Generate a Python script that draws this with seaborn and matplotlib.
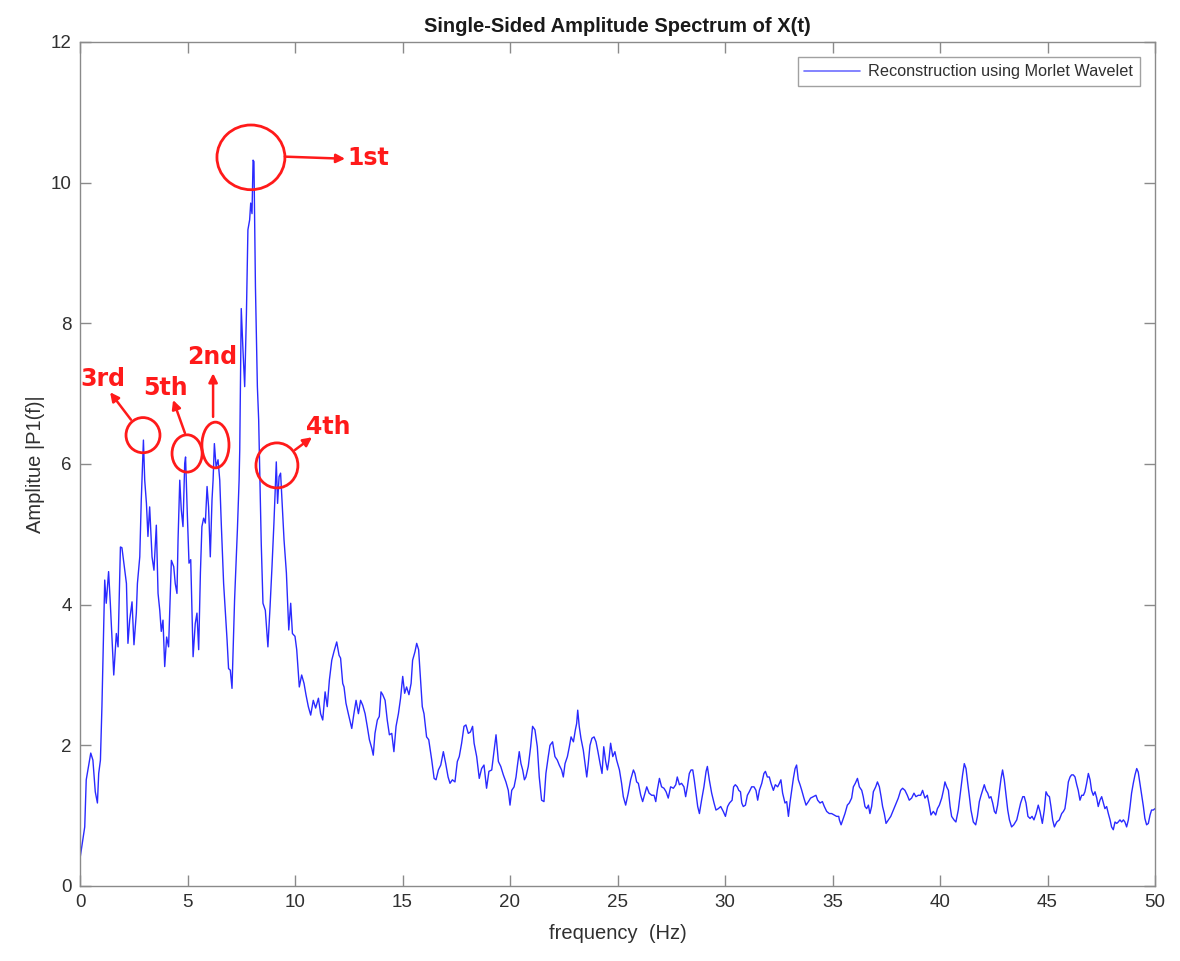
import matplotlib
matplotlib.use("Agg")
import matplotlib.pyplot as plt
from matplotlib.patches import Ellipse
import seaborn as sns
import pandas as pd

# ---------------- data ----------------
freq_hz = [
    0.00, 0.22, 0.29, 0.50, 0.60, 0.71, 0.81, 0.87, 0.95, 1.02, 1.15, 1.22, 1.33, 1.41, 1.57, 1.69, 1.77, 1.88, 1.95,
    2.08, 2.16, 2.23, 2.31, 2.42, 2.51, 2.62, 2.67, 2.78, 2.85, 2.95, 3.01, 3.09, 3.16, 3.24, 3.35, 3.44, 3.55, 3.63,
    3.71, 3.78, 3.86, 3.94, 4.03, 4.12, 4.25, 4.36, 4.43, 4.51, 4.56, 4.64, 4.71, 4.79, 4.87, 4.91, 4.99, 5.07, 5.15,
    5.26, 5.36, 5.44, 5.52, 5.60, 5.67, 5.75, 5.83, 5.91, 5.98, 6.06, 6.14, 6.19, 6.25, 6.33, 6.42, 6.50, 6.57, 6.68,
    6.84, 6.91, 6.99, 7.07, 7.19, 7.32, 7.40,
    7.43, 7.50, 7.58, 7.66, 7.74, 7.81, 7.89, 7.94, 8.00, 8.05, 8.09, 8.16, 8.25, 8.31,
    8.36, 8.43, 8.51, 8.62, 8.74, 8.84, 8.93, 9.02, 9.09, 9.13, 9.19, 9.26, 9.33, 9.41, 9.49, 9.60, 9.71, 9.80, 9.88,
    10.00, 10.08, 10.20, 10.31, 10.42, 10.51, 10.62, 10.73, 10.85, 10.96, 11.09, 11.19, 11.29, 11.40, 11.50, 11.60,
    11.71, 11.81, 11.94, 12.05, 12.12, 12.22, 12.28, 12.37, 12.48, 12.64, 12.74, 12.84, 12.95, 13.05, 13.15, 13.26,
    13.36, 13.46, 13.57, 13.64, 13.72, 13.83, 13.92, 14.00, 14.08, 14.19, 14.29, 14.39, 14.50, 14.60, 14.70, 14.81,
    14.91, 15.01, 15.10, 15.19, 15.30, 15.40, 15.47, 15.58, 15.66, 15.75, 15.84, 15.92, 16.00, 16.12, 16.22, 16.36,
    16.47, 16.56, 16.67, 16.78, 16.90, 17.01, 17.12, 17.21, 17.32, 17.44, 17.55, 17.64, 17.75, 17.86, 17.95, 18.06,
    18.16, 18.26, 18.33, 18.45, 18.57, 18.68, 18.79, 18.91, 19.02, 19.15, 19.26, 19.35, 19.46, 19.57, 19.69, 19.81,
    19.92,
    20.00, 20.08, 20.19, 20.28, 20.34, 20.43, 20.51, 20.59, 20.67, 20.74, 20.85, 20.96, 21.05, 21.16, 21.27, 21.36,
    21.47, 21.58, 21.67, 21.78, 21.86, 21.98, 22.09, 22.20, 22.29, 22.40, 22.48, 22.56, 22.67, 22.76, 22.84, 22.95,
    23.04, 23.10, 23.15, 23.22, 23.30, 23.41, 23.49, 23.57, 23.64, 23.72, 23.81, 23.91, 24.00, 24.09, 24.19, 24.28,
    24.36, 24.45, 24.53, 24.60, 24.68, 24.78, 24.88, 24.96, 25.09, 25.19, 25.27, 25.38, 25.50, 25.61, 25.74, 25.81,
    25.89, 25.97, 26.08, 26.17, 26.28, 26.36, 26.47, 26.59, 26.70, 26.78, 26.85, 26.95, 27.05, 27.16, 27.26, 27.36,
    27.47, 27.60, 27.71, 27.78, 27.88, 27.98, 28.09, 28.17, 28.25, 28.34, 28.42, 28.50, 28.57, 28.65, 28.73, 28.81,
    28.91, 29.02, 29.12, 29.18, 29.27, 29.38, 29.49, 29.58, 29.69, 29.80, 29.92, 30.02, 30.12, 30.21, 30.33, 30.40,
    30.48, 30.57, 30.64, 30.72, 30.78, 30.85, 30.95, 31.04, 31.13, 31.24, 31.35, 31.44, 31.52, 31.60, 31.71, 31.81,
    31.88, 31.97, 32.06, 32.14, 32.25, 32.34, 32.45, 32.53, 32.60, 32.68, 32.79, 32.87, 32.95, 33.02, 33.10, 33.18,
    33.26, 33.33, 33.41, 33.49, 33.57, 33.67, 33.77, 33.88, 33.98, 34.11, 34.23, 34.31, 34.42, 34.53, 34.62, 34.73,
    34.85, 34.96, 35.07, 35.19, 35.29,
    35.32, 35.40, 35.50, 35.58, 35.69, 35.78, 35.89, 35.97, 36.06, 36.16, 36.25, 36.36, 36.43, 36.51, 36.59, 36.67,
    36.74, 36.82, 36.90, 37.01, 37.09, 37.18, 37.26, 37.33, 37.41, 37.49, 37.60, 37.71, 37.83, 37.96, 38.06, 38.17,
    38.26, 38.37, 38.48, 38.57, 38.68, 38.79, 38.88, 38.99, 39.10, 39.19, 39.30, 39.41, 39.50, 39.58, 39.69, 39.80,
    39.88, 39.97, 40.08, 40.16, 40.23, 40.31, 40.39, 40.47, 40.54, 40.65, 40.74, 40.85, 40.96, 41.05, 41.13, 41.21,
    41.29, 41.36, 41.44, 41.55, 41.66, 41.74, 41.83, 41.91, 41.98, 42.06, 42.14, 42.22, 42.29, 42.37, 42.45, 42.53,
    42.60, 42.68, 42.76, 42.84, 42.91, 42.99, 43.07, 43.15, 43.23, 43.33, 43.43, 43.57, 43.66, 43.75, 43.85, 43.92,
    44.00, 44.09, 44.19, 44.28, 44.37, 44.47, 44.57, 44.65, 44.76, 44.85, 44.93, 45.01, 45.09, 45.16, 45.24, 45.32,
    45.43, 45.55, 45.66, 45.74, 45.81, 45.89, 45.97, 46.05, 46.12, 46.20, 46.28, 46.36, 46.43, 46.51, 46.59, 46.67,
    46.74, 46.82, 46.90, 46.98, 47.05, 47.13, 47.21, 47.29, 47.36, 47.44, 47.52, 47.60, 47.67, 47.75, 47.83, 47.91,
    47.98, 48.06, 48.14, 48.22, 48.29, 48.37, 48.45, 48.53, 48.60, 48.68, 48.76, 48.84, 48.91, 48.99, 49.07, 49.15,
    49.22, 49.30, 49.38, 49.46, 49.53, 49.61, 49.69, 49.77, 49.84, 49.92, 50.00,
]

amplitude = [
    0.39, 0.84, 1.51, 1.89, 1.79, 1.34, 1.18, 1.60, 1.79, 2.55, 4.35, 4.02, 4.47, 4.02, 3.00, 3.59, 3.40, 4.82, 4.81,
    4.49, 4.30, 3.45, 3.78, 4.04, 3.43, 3.88, 4.30, 4.68, 5.49, 6.34, 5.77, 5.44, 4.97, 5.39, 4.68, 4.49, 5.13, 4.16,
    3.92, 3.62, 3.78, 3.12, 3.54, 3.40, 4.63, 4.54, 4.30, 4.16, 4.92, 5.77, 5.35, 5.11, 6.01, 6.10, 5.30, 4.59, 4.64,
    3.26, 3.73, 3.88, 3.36, 4.45, 5.11, 5.23, 5.16, 5.68, 5.39, 4.68, 5.49, 5.77, 6.29, 5.96, 6.06, 5.77, 5.16, 4.30,
    3.50, 3.09, 3.07, 2.81, 4.07, 5.06, 5.77,
    6.20, 8.21, 7.62, 7.10, 8.13, 9.33, 9.47, 9.71, 9.56, 10.32, 10.30, 8.52, 7.10, 6.63,
    5.87, 4.87, 4.02, 3.92, 3.40, 3.97, 4.54, 5.16, 5.73, 6.03, 5.44, 5.82, 5.87, 5.39, 4.92, 4.45, 3.64, 4.02, 3.59,
    3.55, 3.36, 2.83, 3.00, 2.88, 2.72, 2.55, 2.43, 2.64, 2.53, 2.67, 2.45, 2.36, 2.76, 2.55, 2.93,
    3.21, 3.33, 3.47, 3.28, 3.24, 2.88, 2.83, 2.60, 2.45, 2.24, 2.45, 2.64, 2.45, 2.64, 2.57, 2.45,
    2.27, 2.08, 1.96, 1.86, 2.17, 2.36, 2.41, 2.76, 2.72, 2.64, 2.36, 2.15, 2.17, 1.91, 2.27, 2.45,
    2.67, 2.98, 2.74, 2.83, 2.72, 2.88, 3.21, 3.33, 3.45, 3.36, 2.93, 2.55, 2.45, 2.12, 2.08, 1.79,
    1.53, 1.51, 1.65, 1.72, 1.91, 1.74, 1.55, 1.46, 1.51, 1.48, 1.77, 1.84, 2.03, 2.27, 2.29, 2.17,
    2.19, 2.27, 2.03, 1.84, 1.53, 1.67, 1.72, 1.39, 1.63, 1.65, 1.93, 2.15, 1.77, 1.70, 1.58, 1.48,
    1.36,
    1.15, 1.36, 1.41, 1.55, 1.70, 1.91, 1.74, 1.65, 1.51, 1.55, 1.70, 1.98, 2.27, 2.22, 1.98, 1.55,
    1.22, 1.20, 1.60, 1.84, 2.00, 2.05, 1.84, 1.79, 1.72, 1.65, 1.55, 1.74, 1.84, 1.98, 2.12, 2.05,
    2.22, 2.31, 2.50, 2.27, 2.10, 1.93, 1.74, 1.55, 1.74, 2.00, 2.10, 2.12, 2.05, 1.91, 1.74, 1.60,
    1.98, 1.77, 1.65, 1.79, 2.03, 1.84, 1.91, 1.79, 1.65, 1.46, 1.27, 1.15, 1.32, 1.51, 1.65, 1.60,
    1.48, 1.46, 1.29, 1.20, 1.32, 1.41, 1.32, 1.29, 1.29, 1.20, 1.36, 1.53, 1.41, 1.39, 1.34, 1.25,
    1.41, 1.39, 1.44, 1.55, 1.44, 1.46, 1.41, 1.27, 1.41, 1.60, 1.65, 1.65, 1.51, 1.32, 1.13, 1.03,
    1.22, 1.41, 1.63, 1.70, 1.51, 1.32, 1.18, 1.08, 1.10, 1.13, 1.06, 0.99, 1.13, 1.18, 1.22, 1.41,
    1.44, 1.41, 1.36, 1.34, 1.18, 1.13, 1.15, 1.29, 1.34, 1.41, 1.41, 1.36, 1.22, 1.36, 1.46, 1.60,
    1.63, 1.55, 1.55, 1.46, 1.36, 1.44, 1.41, 1.46, 1.51, 1.32, 1.18, 1.20, 0.99, 1.18, 1.36, 1.53,
    1.67, 1.72, 1.51, 1.44, 1.36, 1.25, 1.15, 1.20, 1.25, 1.27, 1.29, 1.22, 1.18, 1.20, 1.13, 1.06,
    1.03, 1.03, 1.01, 0.99, 0.99,
    0.94, 0.87, 0.96, 1.03, 1.15, 1.18, 1.25, 1.41, 1.46, 1.53, 1.41, 1.36, 1.27, 1.13, 1.10, 1.15,
    1.03, 1.13, 1.34, 1.41, 1.48, 1.41, 1.27, 1.13, 1.03, 0.89, 0.94, 0.99, 1.08, 1.18, 1.25, 1.36,
    1.39, 1.36, 1.29, 1.22, 1.25, 1.32, 1.27, 1.29, 1.29, 1.36, 1.25, 1.29, 1.15, 1.01, 1.06, 1.01,
    1.10, 1.15, 1.25, 1.36, 1.48, 1.41, 1.36, 1.13, 0.99, 0.94, 0.91, 1.08, 1.36, 1.58, 1.74, 1.67,
    1.46, 1.29, 1.08, 0.91, 0.87, 0.99, 1.20, 1.29, 1.36, 1.44, 1.36, 1.32, 1.25, 1.27, 1.18, 1.06,
    1.03, 1.15, 1.34, 1.53, 1.65, 1.51, 1.29, 1.08, 0.94, 0.84, 0.87, 0.94, 1.06, 1.18, 1.27, 1.27,
    1.18, 0.99, 0.96, 0.99, 0.94, 1.03, 1.15, 1.06, 0.89, 1.08, 1.34, 1.29, 1.27, 1.13, 0.94, 0.84,
    0.91, 0.94, 1.03, 1.06, 1.10, 1.27, 1.48, 1.55, 1.58, 1.58, 1.55, 1.44, 1.36, 1.22, 1.29, 1.29,
    1.34, 1.46, 1.60, 1.51, 1.36, 1.29, 1.34, 1.25, 1.13, 1.22, 1.27, 1.18, 1.10, 1.13, 1.03, 0.94,
    0.84, 0.80, 0.91, 0.89, 0.91, 0.94, 0.91, 0.94, 0.91, 0.84, 0.94, 1.13, 1.32, 1.46, 1.58, 1.67,
    1.62, 1.46, 1.29, 1.13, 0.96, 0.87, 0.89, 1.01, 1.08, 1.08, 1.10,
]

x_ticks = [0, 5, 10, 15, 20, 25, 30, 35, 40, 45, 50]
y_ticks = [0, 2, 4, 6, 8, 10, 12]

# annotation overlay (data coordinates)
peak_labels = ["1st", "2nd", "3rd", "4th", "5th"]
circle_centers = [(7.95, 10.36), (6.30, 6.27), (2.93, 6.41), (9.16, 5.98), (4.98, 6.15)]
circle_sizes = [(3.16, 0.92), (1.26, 0.65), (1.58, 0.50), (1.95, 0.64), (1.40, 0.53)]
arrow_tails = [(9.53, 10.37), (6.19, 6.67), (2.37, 6.63), (10.00, 6.20), (4.88, 6.44)]
arrow_heads = [(12.33, 10.34), (6.19, 7.29), (1.40, 7.02), (10.79, 6.38), (4.33, 6.91)]
label_pos = [(13.40, 10.35), (6.16, 7.52), (1.07, 7.21), (11.55, 6.53), (3.98, 7.08)]

# ---------------- plot ----------------
sns.set_style("ticks")
plt.rcParams["font.family"] = ["Liberation Sans", "DejaVu Sans"]

fig = plt.figure(figsize=(11.8, 9.61), dpi=100)
ax = fig.add_axes([80 / 1180, 1 - 886 / 961, (1155 - 80) / 1180, (886 - 42) / 961])

df = pd.DataFrame({"frequency": freq_hz, "amp": amplitude})
sns.lineplot(data=df, x="frequency", y="amp", ax=ax, color="#2a2aff", linewidth=1.0,
             label="Reconstruction using Morlet Wavelet", sort=False, estimator=None)

ax.set_xlim(0, 50)
ax.set_ylim(0, 12)
ax.set_xticks(x_ticks)
ax.set_yticks(y_ticks)
ax.set_xticklabels([str(t) for t in x_ticks])
ax.set_yticklabels([str(t) for t in y_ticks])

spine_color = "#8a8a8a"
for s in ax.spines.values():
    s.set_visible(True)
    s.set_color(spine_color)
    s.set_linewidth(1.0)
ax.tick_params(direction="in", length=8, width=1.0, top=True, right=True,
               color=spine_color, labelcolor="#303030", labelsize=13.5, pad=6)

ax.set_title("Single-Sided Amplitude Spectrum of X(t)", fontsize=14.5, fontweight="bold",
             color="#1a1a1a", pad=7)
ax.set_xlabel("frequency  (Hz)", fontsize=14.5, color="#303030", labelpad=9)
ax.set_ylabel("Amplitue |P1(f)|", fontsize=14.5, color="#303030", labelpad=4)

leg = ax.legend(loc="upper right", fontsize=11.7, frameon=True, fancybox=False,
                borderaxespad=0.95, handlelength=3.4, handletextpad=0.5,
                borderpad=0.42)
leg.get_frame().set_edgecolor("#8a8a8a")
leg.get_frame().set_linewidth(1.0)
for t in leg.get_texts():
    t.set_color("#303030")
for l in leg.get_lines():
    l.set_color("#6e6eff")
    l.set_linewidth(1.2)

# annotations
for lab, c, sz, tail, head, lp in zip(peak_labels, circle_centers, circle_sizes,
                                       arrow_tails, arrow_heads, label_pos):
    ax.add_patch(Ellipse(c, sz[0], sz[1], fill=False, edgecolor="#ff1a1a", linewidth=2.0,
                         zorder=5, clip_on=False))
    ax.annotate("", xy=head, xytext=tail,
                arrowprops=dict(arrowstyle="-|>", color="#ff1a1a", lw=1.8,
                                mutation_scale=13, shrinkA=0, shrinkB=0), zorder=5)
    ax.text(lp[0], lp[1], lab, color="#ff1a1a", fontsize=17, fontweight="bold",
            ha="center", va="center", family="DejaVu Sans", zorder=6)

fig.savefig("out.png", dpi=100, facecolor="white")
